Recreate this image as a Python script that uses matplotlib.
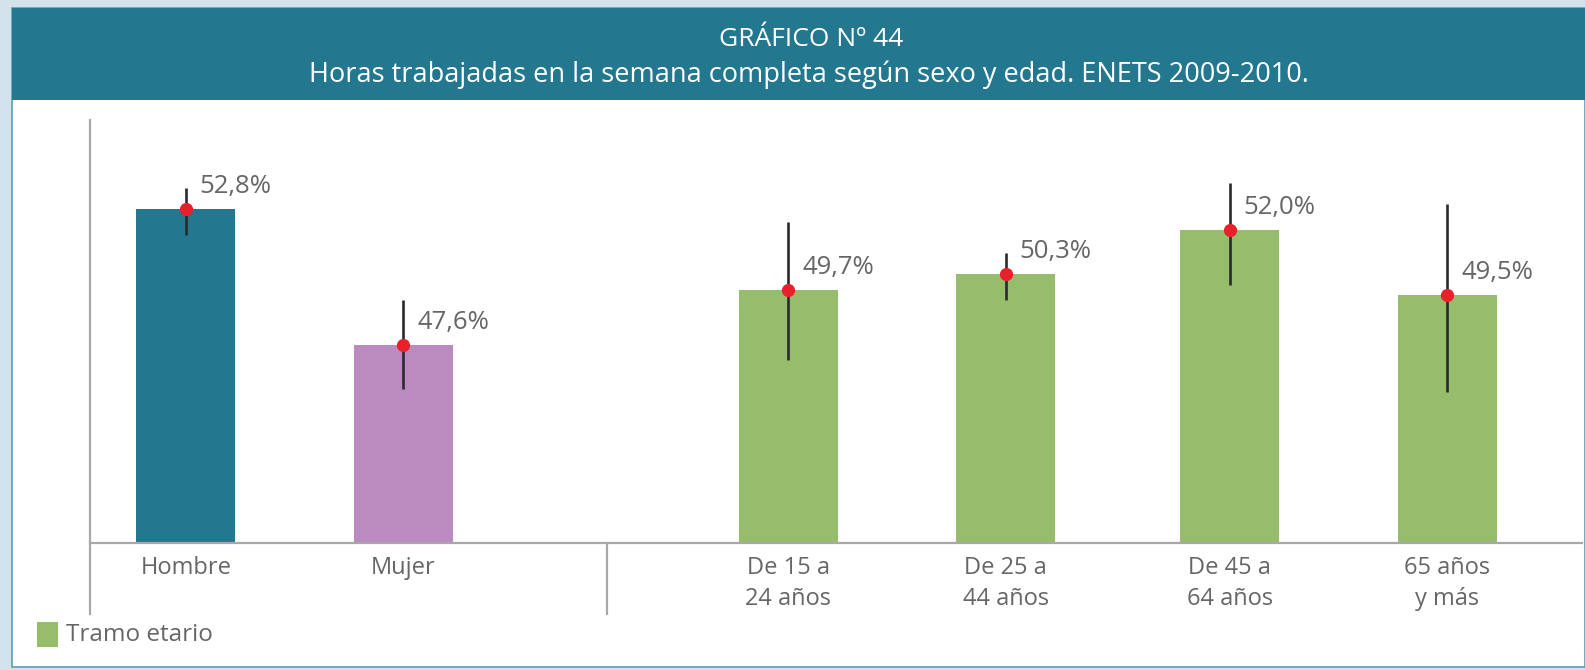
import matplotlib as mpl
import matplotlib.pyplot as plt
from matplotlib.patches import Rectangle
from matplotlib.lines import Line2D

mpl.rcParams['font.family'] = ['Open Sans', 'DejaVu Sans']

# ---- data ----
categories = ['Hombre', 'Mujer', 'De 15 a\n24 años', 'De 25 a\n44 años',
              'De 45 a\n64 años', '65 años\ny más']
values = [52.8, 47.6, 49.7, 50.3, 52.0, 49.5]
err_low = [51.8, 45.9, 47.0, 49.3, 49.9, 45.8]
err_high = [53.6, 49.3, 52.3, 51.1, 53.8, 53.0]
labels = ['52,8%', '47,6%', '49,7%', '50,3%', '52,0%', '49,5%']

title_1 = 'GRÁFICO Nº 44'
title_2 = 'Horas trabajadas en la semana completa según sexo y edad. ENETS 2009-2010.'
legend_label = 'Tramo etario'

# ---- colours ----
teal = '#23788f'
purple = '#bb8bbf'
green = '#96bd6b'
red = '#e8202a'
grey_txt = '#666666'
grey_line = '#a8a8a8'
bg = '#d3e3ec'

bar_cols = [teal, purple, green, green, green, green]
xpos = [0, 1, 2.77, 3.77, 4.8, 5.8]

W, H = 1585, 670
fig = plt.figure(figsize=(W / 100, H / 100), dpi=100)
fig.patch.set_facecolor(bg)

# panel + header (pixel coords -> figure fractions)
def fr(x0, y0, x1, y1):
    return (x0 / W, 1 - y1 / H), (x1 - x0) / W, (y1 - y0) / H

xy, w, h = fr(12, 8, 1585, 667)
fig.patches.append(Rectangle(xy, w, h, transform=fig.transFigure, zorder=-2,
                             facecolor='white', edgecolor='#5f9bb3', lw=1.2))
xy, w, h = fr(12, 8, 1585, 100)
fig.patches.append(Rectangle(xy, w, h, transform=fig.transFigure, zorder=-1,
                             facecolor=teal, edgecolor='none'))

fig.text(811 / W, 1 - 39 / H, title_1, color='white', fontsize=19,
         ha='center', va='center')
fig.text(809 / W, 1 - 75 / H, title_2, color='white', fontsize=19.5,
         ha='center', va='center')

# ---- axes ----
ax_l, ax_r, ax_b, ax_t = 90, 1582, 543, 120
ax = fig.add_axes([ax_l / W, 1 - ax_b / H, (ax_r - ax_l) / W, (ax_b - ax_t) / H])
ax.set_facecolor('none')
ax.set_xlim(-0.441, 6.42)
ax.set_ylim(40, 56.2)

ax.bar(xpos, [v - 40 for v in values], bottom=40, width=0.455,
       color=bar_cols, zorder=2)
ax.vlines(xpos, err_low, err_high, color='#2a2a2a', lw=1.9, zorder=3)
ax.plot(xpos, values, 'o', color=red, ms=8.5, zorder=4)

for x, v, lab in zip(xpos, values, labels):
    ax.annotate(lab, (x, v), xytext=(10, 16), textcoords='offset points',
                fontsize=18.5, color=grey_txt, ha='left', va='center')

for s in ['top', 'right', 'left']:
    ax.spines[s].set_visible(False)
ax.spines['bottom'].set_color(grey_line)
ax.spines['bottom'].set_linewidth(1.6)
ax.set_yticks([])
ax.set_xticks(xpos)
ax.set_xticklabels(categories, fontsize=17, color=grey_txt, linespacing=1.4)
ax.tick_params(axis='x', length=0, pad=9)

# y-axis line and group separator reaching below the baseline
fig.add_artist(Line2D([ax_l / W, ax_l / W], [1 - ax_t / H, 1 - 614 / H],
                      color=grey_line, lw=1.6))
fig.add_artist(Line2D([607 / W, 607 / W], [1 - ax_b / H, 1 - 614 / H],
                      color=grey_line, lw=1.6))

# legend
xy, w, h = fr(37, 622, 58, 647)
fig.patches.append(Rectangle(xy, w, h, transform=fig.transFigure,
                             facecolor=green, edgecolor='none'))
fig.text(66 / W, 1 - 635 / H, legend_label, fontsize=17.5, color=grey_txt,
         ha='left', va='center')

fig.savefig('out.png', dpi=100, facecolor=bg)
